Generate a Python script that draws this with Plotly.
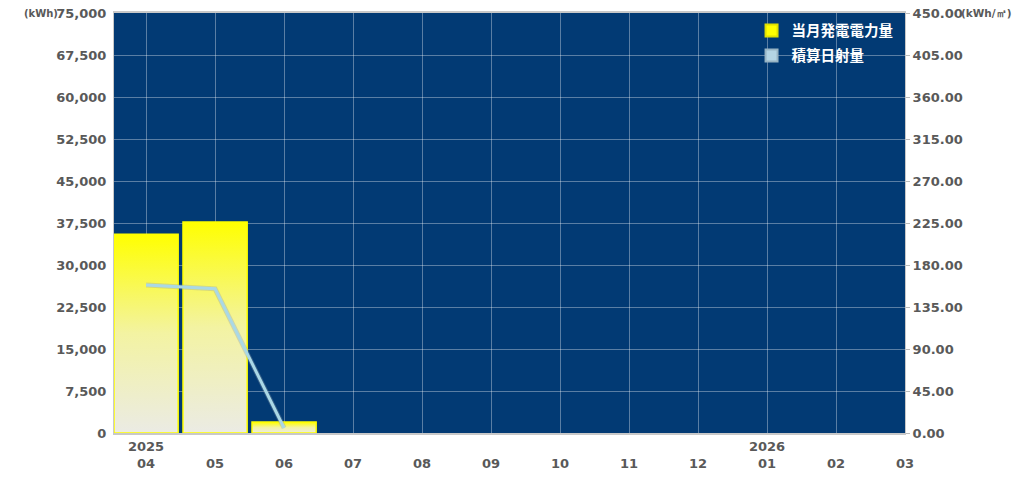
import plotly.graph_objects as go

months = ["04", "05", "06", "07", "08", "09", "10", "11", "12", "01", "02", "03"]
years = {"04": "2025", "01": "2026"}
generation_kwh = [35500, 37700, 1950, None, None, None, None, None, None, None, None, None]
irradiation = [158.5, 154.5, 5.4, None, None, None, None, None, None, None, None, None]

left_ticks = list(range(0, 75001, 7500))
right_ticks = [i * 45 for i in range(11)]

x = list(range(len(months)))
ticktext = [(years[m] + "<br>" + m) if m in years else ("<br>" + m) for m in months]

fig = go.Figure()

half = 0.465
for i, v in enumerate(generation_kwh):
    if v is None:
        continue
    fig.add_trace(go.Scatter(
        x=[i - half, i - half, i + half, i + half, i - half],
        y=[0, v, v, 0, 0],
        mode="lines", fill="toself",
        line=dict(color="#ffff00", width=1.5),
        fillgradient=dict(type="vertical",
                          colorscale=[[0, "#ebebe4"], [0.5, "#f3f3a2"], [1, "#ffff00"]]),
        showlegend=False, hoverinfo="skip", yaxis="y",
    ))

# legend entries
fig.add_trace(go.Scatter(x=[None], y=[None], mode="markers", name="当月発電電力量",
                         legendgroup="g1",
                         marker=dict(symbol="square", size=9, color="#ffff00",
                                     line=dict(color="#e0e000", width=1))))
fig.add_trace(go.Scatter(x=[None], y=[None], mode="markers", name="積算日射量",
                         legendgroup="g2",
                         marker=dict(symbol="square", size=9, color="#b4d4e4",
                                     line=dict(color="#98b4c4", width=1))))

# line shadow + line
fig.add_trace(go.Scatter(x=x, y=irradiation, yaxis="y2", mode="lines",
                         line=dict(color="rgba(150,160,170,0.35)", width=5),
                         showlegend=False, hoverinfo="skip", connectgaps=False))
fig.add_trace(go.Scatter(x=x, y=irradiation, yaxis="y2", mode="lines",
                         line=dict(color="#aad8e6", width=3),
                         showlegend=False, connectgaps=False))

tickfont = dict(family="DejaVu Sans", size=13, color="#595959", weight="bold")

fig.update_layout(
    width=1024, height=483,
    margin=dict(l=114, r=119, t=13, b=50, autoexpand=False),
    paper_bgcolor="white",
    plot_bgcolor="#023a74",
    font=dict(family="DejaVu Sans"),
    xaxis=dict(
        tickmode="array", tickvals=x, ticktext=ticktext,
        range=[-half, len(months) - 1], automargin=False,
        showgrid=True, gridcolor="rgba(255,255,255,0.35)", gridwidth=1,
        tickfont=tickfont, ticks="", zeroline=False, ticklabeloverflow="allow",
        showline=True, linecolor="#c8c8c8", linewidth=2, mirror=True,
    ),
    yaxis=dict(
        range=[0, 75000], tickvals=left_ticks, tickformat=",d", automargin=False,
        showgrid=True, gridcolor="rgba(255,255,255,0.35)", gridwidth=1,
        tickfont=tickfont, ticks="", zeroline=False, ticklabelstandoff=4,
        ticklabeloverflow="allow",
        showline=True, linecolor="#c8c8c8", linewidth=1,
    ),
    yaxis2=dict(
        overlaying="y", side="right", range=[0, 450], tickvals=right_ticks,
        tickformat=".2f", showgrid=False, zeroline=False, automargin=False,
        ticklabeloverflow="allow",
        tickfont=tickfont, ticks="outside", ticklen=4, tickcolor="#bbbbbb",
        showline=True, linecolor="#c8c8c8", linewidth=1,
    ),
    legend=dict(x=0.806, y=0.996, xanchor="left", yanchor="top",
                bgcolor="rgba(0,0,0,0)", traceorder="grouped",
                font=dict(family="Noto Sans CJK JP", size=14.5, color="white", weight="bold"),
                itemsizing="constant", tracegroupgap=3, itemwidth=30),
    showlegend=True,
)

fig.add_annotation(text="(kWh)", xref="paper", yref="paper", x=0, y=1, xshift=-54,
                   xanchor="right", yanchor="middle", showarrow=False,
                   font=dict(family="DejaVu Sans", size=10, color="#595959", weight="bold"))
fig.add_annotation(text="(kWh/㎡)", xref="paper", yref="paper", x=1, y=1, xshift=54,
                   xanchor="left", yanchor="middle", showarrow=False,
                   font=dict(family="DejaVu Sans", size=10.5, color="#595959", weight="bold"))

fig.write_html("out.html", config={"displayModeBar": False},
               post_script="document.body.style.margin='0';")
